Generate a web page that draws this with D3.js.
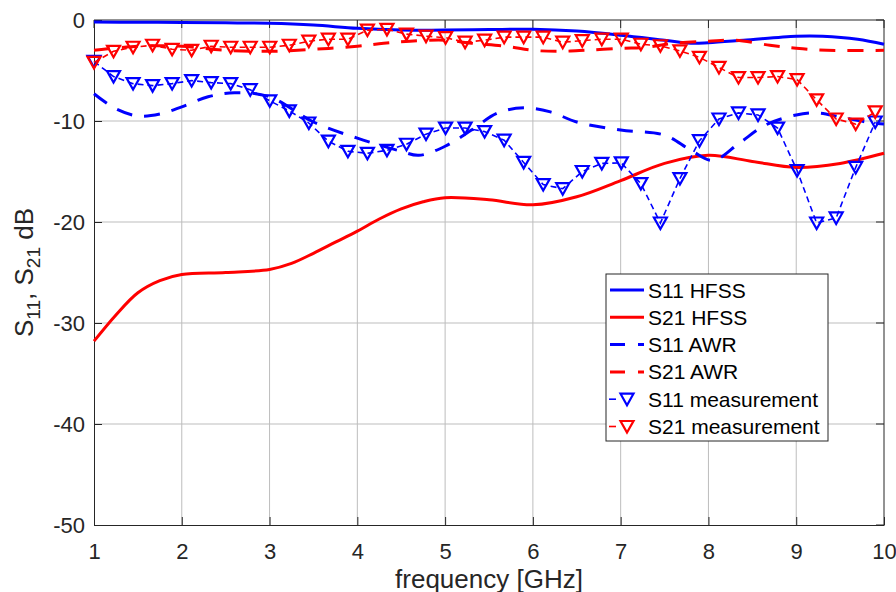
<!DOCTYPE html>
<html><head><meta charset="utf-8">
<script src="https://cdn.jsdelivr.net/npm/d3@7"></script>
<style>
body{margin:0;background:#fff;}
svg{display:block;font-family:"Liberation Sans",Arial,sans-serif;}
</style></head>
<body>
<svg id="chart" width="896" height="592"></svg>
<script>
// ---- data ----
const xTicks = [1,2,3,4,5,6,7,8,9,10];
const yTicks = [0,-10,-20,-30,-40,-50];

const s11HfssF = [1,1.5,2,2.5,3,3.5,4,4.5,5,5.5,6,6.5,7,7.5,7.8,8,8.4,9,9.3,9.7,10];
const s11HfssV = [-0.2,-0.22,-0.25,-0.28,-0.33,-0.5,-0.82,-0.98,-1.0,-0.95,-0.92,-1.1,-1.5,-2.0,-2.3,-2.25,-2.0,-1.6,-1.6,-1.9,-2.4];

const s21HfssF = [1,1.25,1.5,1.75,2,2.5,3,3.25,3.5,3.75,4,4.25,4.5,4.75,5,5.5,6,6.5,7,7.5,8,8.5,9,9.5,10];
const s21HfssV = [-31.8,-29.2,-27.0,-25.8,-25.2,-25.0,-24.7,-24.1,-23.1,-22.0,-20.9,-19.7,-18.7,-18.0,-17.6,-17.8,-18.3,-17.5,-15.9,-14.2,-13.4,-14.0,-14.6,-14.2,-13.2];

const s11AwrF = [1,1.25,1.5,1.75,2,2.3,2.6,3,3.5,4,4.5,4.7,5,5.3,5.6,5.9,6.2,6.5,7,7.5,7.8,8.05,8.35,8.65,9,9.25,9.5,9.8,10];
const s11AwrV = [-7.3,-8.8,-9.5,-9.3,-8.6,-7.6,-7.2,-7.6,-10.1,-11.7,-13.0,-13.4,-12.5,-10.9,-9.2,-8.7,-9.1,-10.1,-10.9,-11.4,-12.9,-13.9,-12.2,-10.4,-9.4,-9.2,-9.6,-10.1,-10.3];

const s21AwrF = [1,1.5,2,2.5,3,3.5,4,4.3,4.6,5,5.3,5.7,6,6.3,6.6,7,7.3,7.6,8,8.3,8.7,9,9.35,10];
const s21AwrV = [-3.0,-2.6,-2.6,-3.0,-3.1,-2.9,-2.6,-2.3,-2.1,-2.0,-2.3,-2.6,-3.0,-3.1,-3.0,-2.8,-2.7,-2.3,-2.1,-2.0,-2.5,-2.8,-3.0,-3.0];

const measF = d3.range(41).map(i => 1 + i * 0.2225);
const s11MeasV = [-4.1,-5.6,-6.3,-6.5,-6.3,-6.0,-6.2,-6.3,-6.9,-8.0,-9.0,-10.2,-12.0,-13.0,-13.2,
  -12.9,-12.3,-11.3,-10.7,-10.7,-11.05,-11.9,-14.1,-16.3,-16.7,-15.0,-14.2,-14.15,-16.2,-20.1,
  -15.7,-11.95,-9.8,-9.2,-9.4,-10.7,-14.9,-20.1,-19.6,-14.6,-10.1];
const s21MeasV = [-4.2,-3.1,-2.7,-2.5,-2.9,-3.0,-2.6,-2.7,-2.7,-2.7,-2.5,-2.1,-1.9,-1.9,-1.0,
  -0.93,-1.4,-1.6,-1.75,-2.2,-2.0,-1.7,-1.7,-1.7,-2.2,-2.05,-1.9,-1.9,-2.4,-2.55,
  -3.05,-3.7,-4.7,-5.7,-5.7,-5.6,-5.9,-7.9,-9.8,-10.3,-9.1];

const legendLabels = ["S11 HFSS","S21 HFSS","S11 AWR","S21 AWR","S11 measurement","S21 measurement"];

// ---- layout ----
const L = 94, R = 884, T = 20, B = 525;
const svg = d3.select("#chart");
const x = d3.scaleLinear().domain([1,10]).range([L,R]);
const y = d3.scaleLinear().domain([-50,0]).range([B,T]);
const BLUE = "#0000ff", RED = "#ff0000";

// grid
svg.append("g").selectAll("line").data(xTicks.slice(1,-1)).join("line")
  .attr("x1", d => x(d)).attr("x2", d => x(d)).attr("y1", T).attr("y2", B)
  .attr("stroke", "#bdbdbd").attr("stroke-width", 1);
svg.append("g").selectAll("line").data(yTicks.slice(1,-1)).join("line")
  .attr("y1", d => y(d)).attr("y2", d => y(d)).attr("x1", L).attr("x2", R)
  .attr("stroke", "#bdbdbd").attr("stroke-width", 1);

// axes
const xAxis = svg.append("g").attr("transform", `translate(0,${B})`)
  .call(d3.axisBottom(x).tickValues(xTicks).tickSizeInner(-8).tickSizeOuter(0).tickPadding(18).tickFormat(d3.format("d")));
const yAxis = svg.append("g").attr("transform", `translate(${L},0)`)
  .call(d3.axisLeft(y).tickValues(yTicks).tickSizeInner(-8).tickSizeOuter(0).tickPadding(9).tickFormat(d => d === 0 ? "0" : "-" + Math.abs(d)));
[xAxis, yAxis].forEach(a => {
  a.selectAll("path.domain").attr("stroke", "#262626");
  a.selectAll(".tick line").attr("stroke", "#262626");
  a.selectAll(".tick text").attr("fill", "#262626").attr("font-size", 22)
    .attr("font-family", "'Liberation Sans', Arial, sans-serif");
});
// top and right box lines
svg.append("line").attr("x1", L).attr("x2", R).attr("y1", T).attr("y2", T).attr("stroke", "#262626");
svg.append("line").attr("x1", R).attr("x2", R).attr("y1", T).attr("y2", B).attr("stroke", "#262626");
// right/top ticks
svg.append("g").selectAll("line").data(yTicks).join("line")
  .attr("x1", R).attr("x2", R - 8).attr("y1", d => y(d)).attr("y2", d => y(d)).attr("stroke", "#262626");
svg.append("g").selectAll("line").data(xTicks).join("line")
  .attr("y1", T).attr("y2", T + 8).attr("x1", d => x(d)).attr("x2", d => x(d)).attr("stroke", "#262626");

// curves
const smooth = d3.line().x(d => x(d[0])).y(d => y(d[1])).curve(d3.curveCatmullRom.alpha(0.5));
const straight = d3.line().x(d => x(d[0])).y(d => y(d[1]));
const zip = (a, b) => a.map((v, i) => [v, b[i]]);

const plotG = svg.append("g");
plotG.append("path").attr("d", smooth(zip(s11HfssF, s11HfssV))).attr("fill","none").attr("stroke",BLUE).attr("stroke-width",3);
plotG.append("path").attr("d", smooth(zip(s21HfssF, s21HfssV))).attr("fill","none").attr("stroke",RED).attr("stroke-width",3);
plotG.append("path").attr("d", smooth(zip(s11AwrF, s11AwrV))).attr("fill","none").attr("stroke",BLUE).attr("stroke-width",3).attr("stroke-dasharray","16,12");
plotG.append("path").attr("d", smooth(zip(s21AwrF, s21AwrV))).attr("fill","none").attr("stroke",RED).attr("stroke-width",3).attr("stroke-dasharray","16,12");

const tri = "M-6.5,-5.5L6.5,-5.5L0,6Z";
function meas(vals, color) {
  plotG.append("path").attr("d", straight(zip(measF, vals))).attr("fill","none")
    .attr("stroke", color).attr("stroke-width", 1.6).attr("stroke-dasharray","6,4");
  plotG.append("g").selectAll("path").data(zip(measF, vals)).join("path")
    .attr("d", tri).attr("transform", d => `translate(${x(d[0])},${y(d[1])})`)
    .attr("fill","none").attr("stroke", color).attr("stroke-width", 2.2);
}
meas(s11MeasV, BLUE);
meas(s21MeasV, RED);

// legend
const lg = svg.append("g");
lg.append("rect").attr("x", 606).attr("y", 274).attr("width", 222).attr("height", 167)
  .attr("fill", "#fff").attr("stroke", "#262626").attr("stroke-width", 1);
const styles = [
  {c: BLUE, dash: null, m: false}, {c: RED, dash: null, m: false},
  {c: BLUE, dash: "15,13", m: false}, {c: RED, dash: "15,13", m: false},
  {c: BLUE, dash: null, m: true}, {c: RED, dash: null, m: true}
];
legendLabels.forEach((lab, i) => {
  const cy = 290 + i * 27.3;
  const s = styles[i];
  if (!s.m) {
    lg.append("line").attr("x1", 610).attr("x2", 644).attr("y1", cy).attr("y2", cy)
      .attr("stroke", s.c).attr("stroke-width", 3).attr("stroke-dasharray", s.dash);
  } else {
    lg.append("line").attr("x1", 609).attr("x2", 616).attr("y1", cy).attr("y2", cy)
      .attr("stroke", s.c).attr("stroke-width", 1.6);
    lg.append("path").attr("d", tri).attr("transform", `translate(627,${cy})`)
      .attr("fill","none").attr("stroke", s.c).attr("stroke-width", 2.2);
  }
  lg.append("text").attr("x", 648).attr("y", cy + 7.5).attr("font-size", 21)
    .attr("fill", "#000").text(lab);
});

// axis labels
svg.append("text").attr("x", (L + R) / 2).attr("y", 588).attr("text-anchor", "middle")
  .attr("font-size", 26).attr("fill", "#262626").text("frequency [GHz]");
const yl = svg.append("text").attr("transform", `translate(33,${(T + B) / 2}) rotate(-90)`)
  .attr("text-anchor", "middle").attr("font-size", 26).attr("fill", "#262626");
yl.append("tspan").text("S");
yl.append("tspan").attr("font-size", 19).attr("dy", 7).text("11");
yl.append("tspan").attr("dy", -7).text(", S");
yl.append("tspan").attr("font-size", 19).attr("dy", 7).text("21");
yl.append("tspan").attr("dy", -7).text(" dB");
</script>
</body></html>
